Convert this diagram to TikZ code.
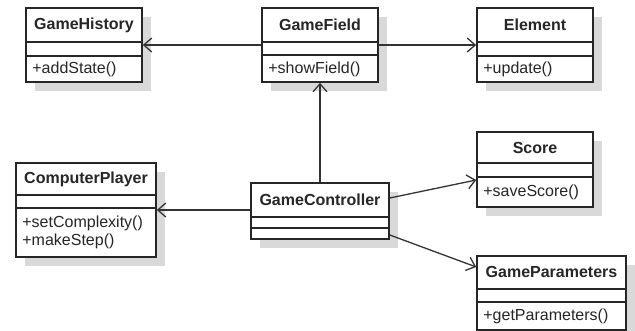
\documentclass[tikz,border=0pt]{standalone}
\usepackage{fontspec}
\setmainfont{Liberation Sans}
\usetikzlibrary{arrows.meta,shadows}

\tikzset{
    classbox/.style={rectangle, draw=black!85, line width=1.6pt, fill=white, inner sep=0pt,
        drop shadow={shadow xshift=9pt, shadow yshift=-9pt, fill=black!15, opacity=1}},
    classname/.style={font=\fontsize{16}{19}\selectfont\bfseries, text=black!85, inner sep=0pt},
    classop/.style={font=\fontsize{16}{18}\selectfont, text=black!85, anchor=west, inner sep=0pt, align=left},
    sepline/.style={draw=black!85, line width=1.6pt},
    assoc/.style={draw=black!80, line width=1.3pt, -{Straight Barb[length=8pt,width=14pt]}}
}

\begin{document}
\begin{tikzpicture}[x=1pt, y=-1pt]
    \useasboundingbox (0,0) rectangle (635,331);

    % Classes
    \node[classbox, minimum width=116pt, minimum height=74pt] (history) at (84,45) {};
    \node[classbox, minimum width=116pt, minimum height=74pt] (field) at (320,45) {};
    \node[classbox, minimum width=116pt, minimum height=74pt] (element) at (535,45) {};
    \node[classbox, minimum width=116pt, minimum height=75pt] (score) at (535,169.5) {};
    \node[classbox, minimum width=149pt, minimum height=74pt] (params) at (551.5,293) {};
    \node[classbox, minimum width=140pt, minimum height=94pt] (player) at (86,210) {};
    \node[classbox, minimum width=138pt, minimum height=56pt] (ctrl) at (320,211) {};

    % Compartments
    \foreach \c/\ya/\yb in {history/42/56, field/42/55, element/42/56, score/163/177,
                             params/289/302, player/195/208, ctrl/217/228} {
        \draw[sepline] (\c.west |- 0,\ya) -- (\c.east |- 0,\ya);
        \draw[sepline] (\c.west |- 0,\yb) -- (\c.east |- 0,\yb);
    }

    % Names
    \node[classname] (historyname) at (history.center |- 0,25) {GameHistory};
    \node[classname] (fieldname) at (field.center |- 0,25) {GameField};
    \node[classname] (elementname) at (element.center |- 0,25) {Element};
    \node[classname] (scorename) at (score.center |- 0,148) {Score};
    \node[classname] (paramsname) at (params.center |- 0,272) {GameParameters};
    \node[classname] (playername) at (player.center |- 0,179) {ComputerPlayer};
    \node[classname] (ctrlname) at (ctrl.center |- 0,200) {GameController};

    % Operations
    \node[classop] (historyop) at ([xshift=7pt]history.west |- 0,69) {+addState()};
    \node[classop] (fieldop) at ([xshift=7pt]field.west |- 0,69) {+showField()};
    \node[classop] (elementop) at ([xshift=7pt]element.west |- 0,69) {+update()};
    \node[classop] (scoreop) at ([xshift=7pt]score.west |- 0,192) {+saveScore()};
    \node[classop] (paramsop) at ([xshift=7pt]params.west |- 0,316) {+getParameters()};
    \node[classop] (playerop) at ([xshift=7pt]player.west |- 0,232) {+setComplexity()\\+makeStep()};

    % Associations
    \draw[assoc] (field.west |- 0,45) -- (history.east |- 0,45);
    \draw[assoc] (field.east |- 0,45) -- (element.west |- 0,45);
    \draw[assoc] (ctrl.north) -- (field.south);
    \draw[assoc] (ctrl.west |- 0,210) -- (player.east |- 0,210);
    \draw[assoc] (ctrl.east |- 0,198) -- (score.west |- 0,180);
    \draw[assoc] (ctrl.east |- 0,235) -- (params.west |- 0,267);
\end{tikzpicture}
\end{document}
